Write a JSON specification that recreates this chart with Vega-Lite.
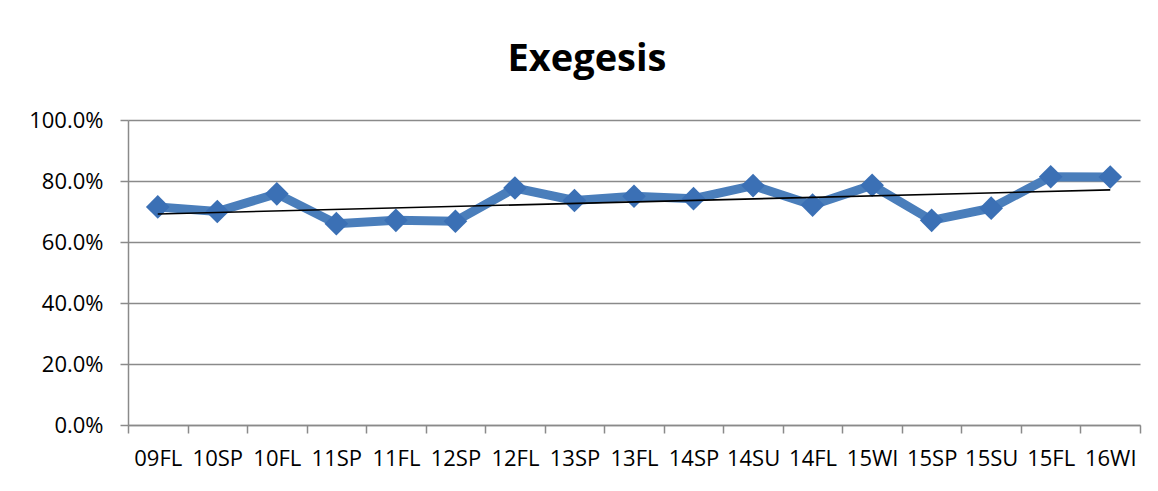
{
  "$schema": "https://vega.github.io/schema/vega-lite/v6.json",
  "width": 1012,
  "height": 305,
  "autosize": {"type": "none"},
  "padding": {"left": 128, "top": 120, "right": 18, "bottom": 66},
  "background": "white",
  "title": {
    "text": "Exegesis",
    "font": "Open Sans",
    "fontSize": 38,
    "fontWeight": "bold",
    "color": "#000000",
    "anchor": "middle",
    "frame": "group",
    "dx": -47,
    "baseline": "alphabetic",
    "offset": 0
  },
  "config": {
    "view": {"stroke": null},
    "font": "Open Sans"
  },
  "datasets": {
    "scores": [
      {"term": "09FL", "rate": 0.715},
      {"term": "10SP", "rate": 0.700},
      {"term": "10FL", "rate": 0.758},
      {"term": "11SP", "rate": 0.660},
      {"term": "11FL", "rate": 0.671},
      {"term": "12SP", "rate": 0.668},
      {"term": "12FL", "rate": 0.777},
      {"term": "13SP", "rate": 0.736},
      {"term": "13FL", "rate": 0.750},
      {"term": "14SP", "rate": 0.742},
      {"term": "14SU", "rate": 0.785},
      {"term": "14FL", "rate": 0.721},
      {"term": "15WI", "rate": 0.786},
      {"term": "15SP", "rate": 0.671},
      {"term": "15SU", "rate": 0.711},
      {"term": "15FL", "rate": 0.814},
      {"term": "16WI", "rate": 0.813}
    ],
    "trend": [
      {"term": "09FL", "trend": 0.692},
      {"term": "16WI", "trend": 0.771}
    ]
  },
  "layer": [
    {
      "data": {"name": "scores"},
      "mark": {"type": "line", "color": "#4a7ebb", "strokeWidth": 9, "strokeJoin": "miter"},
      "encoding": {
        "x": {
          "field": "term",
          "type": "ordinal",
          "sort": null,
          "scale": {
            "type": "band",
            "paddingInner": 0,
            "paddingOuter": 0,
            "domain": ["09FL","10SP","10FL","11SP","11FL","12SP","12FL","13SP","13FL","14SP","14SU","14FL","15WI","15SP","15SU","15FL","16WI"]
          },
          "axis": {
            "title": null,
            "labelAngle": 0,
            "labelFont": "Open Sans",
            "labelFontSize": 22,
            "labelColor": "#000000",
            "labelPadding": 15,
            "tickBand": "extent",
            "tickSize": 8,
            "tickColor": "#8a8a8a",
            "tickWidth": 1.5,
            "domainColor": "#8a8a8a",
            "domainWidth": 1.5,
            "grid": false
          }
        },
        "y": {
          "field": "rate",
          "type": "quantitative",
          "scale": {"domain": [0, 1], "nice": false, "zero": true},
          "axis": {
            "title": null,
            "format": ".1%",
            "values": [0, 0.2, 0.4, 0.6, 0.8, 1.0],
            "labelFont": "Open Sans",
            "labelFontSize": 22,
            "labelColor": "#000000",
            "labelPadding": 17,
            "tickSize": 8,
            "tickColor": "#8a8a8a",
            "tickWidth": 1.5,
            "domainColor": "#8a8a8a",
            "domainWidth": 1.5,
            "grid": true,
            "gridColor": "#8a8a8a",
            "gridWidth": 1.5
          }
        }
      }
    },
    {
      "data": {"name": "scores"},
      "mark": {"type": "point", "shape": "diamond", "filled": true, "size": 560, "color": "#3b70b5", "opacity": 1},
      "encoding": {
        "x": {"field": "term", "type": "ordinal", "sort": null},
        "y": {"field": "rate", "type": "quantitative"}
      }
    },
    {
      "data": {"name": "trend"},
      "mark": {"type": "line", "color": "#000000", "strokeWidth": 1.6},
      "encoding": {
        "x": {"field": "term", "type": "ordinal", "sort": null},
        "y": {"field": "trend", "type": "quantitative"}
      }
    }
  ]
}
